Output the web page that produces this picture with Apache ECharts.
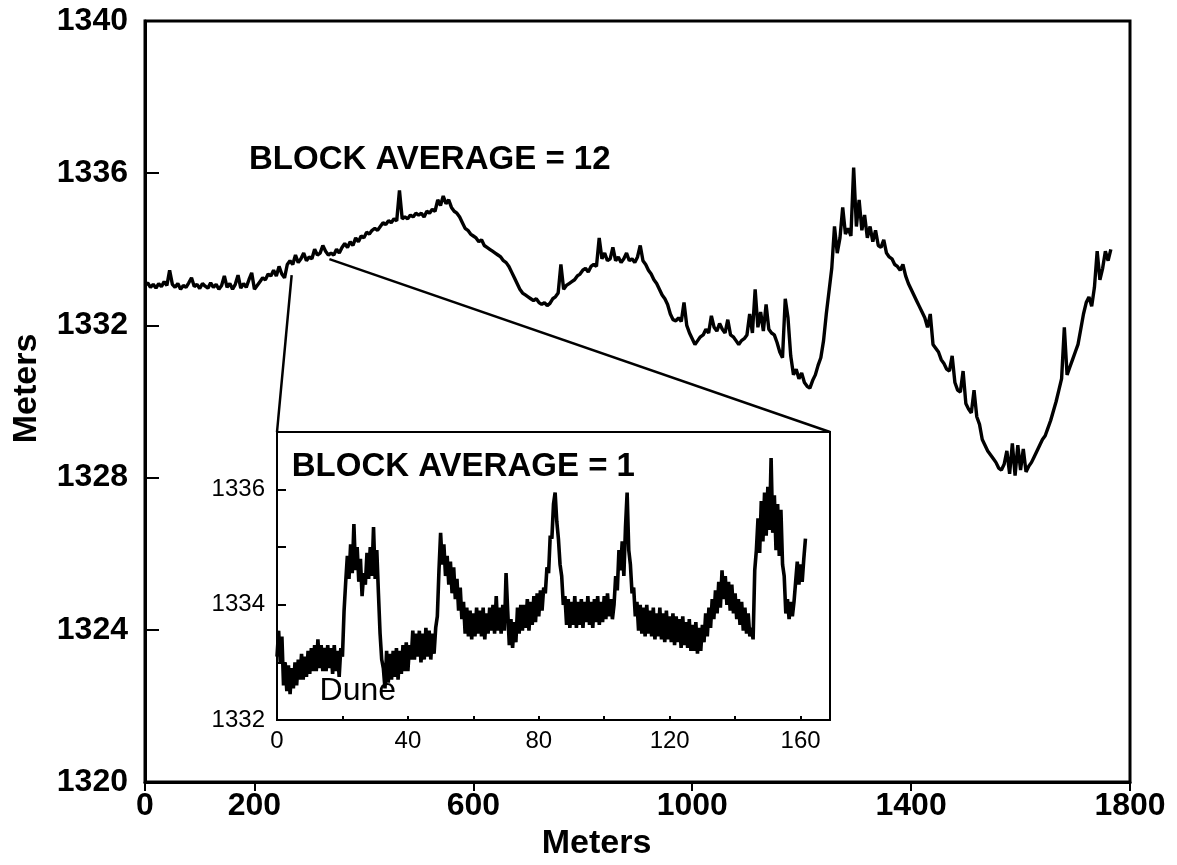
<!DOCTYPE html>
<html><head><meta charset="utf-8">
<script src="https://cdn.jsdelivr.net/npm/echarts@6/dist/echarts.min.js"></script>
<style>html,body{margin:0;padding:0;background:#fff}#c{width:1177px;height:865px}</style>
</head><body><div id="c"></div>
<script>
// ---------- DATA ----------
// Main profile (block average = 12), sampled every mainStep meters from 0 m
const mainStep = 5;
const mainElev = [
1333.05,1333.12,1333.00,1333.08,1332.98,1333.10,1333.02,1333.15,1333.05,1333.45,
1333.08,1333.00,1333.10,1332.95,1333.05,1333.00,1333.12,1333.25,1333.02,1333.08,
1332.97,1333.10,1333.03,1332.98,1333.12,1333.00,1333.08,1332.95,1333.05,1333.30,
1333.00,1333.10,1332.95,1333.08,1333.32,1332.98,1333.10,1333.00,1333.20,1333.38,
1332.95,1333.05,1333.15,1333.25,1333.20,1333.35,1333.30,1333.45,1333.30,1333.55,
1333.35,1333.25,1333.60,1333.70,1333.60,1333.85,1333.65,1333.75,1333.90,1333.70,
1333.80,1333.75,1334.00,1333.85,1333.90,1334.10,1333.95,1333.85,1333.90,1333.85,
1334.00,1333.90,1334.05,1334.15,1334.05,1334.20,1334.10,1334.30,1334.20,1334.35,
1334.30,1334.45,1334.40,1334.50,1334.55,1334.50,1334.60,1334.70,1334.65,1334.75,
1334.70,1334.80,1334.75,1335.55,1334.80,1334.85,1334.80,1334.90,1334.85,1334.95,
1334.90,1334.95,1334.85,1335.00,1334.95,1335.05,1335.00,1335.30,1335.15,1335.40,
1335.20,1335.30,1335.10,1335.00,1334.95,1334.85,1334.70,1334.55,1334.50,1334.40,
1334.35,1334.30,1334.20,1334.25,1334.10,1334.05,1334.00,1333.95,1333.90,1333.85,
1333.80,1333.70,1333.65,1333.55,1333.40,1333.25,1333.10,1332.95,1332.85,1332.80,
1332.75,1332.70,1332.65,1332.70,1332.60,1332.55,1332.60,1332.52,1332.58,1332.70,
1332.75,1332.85,1333.60,1332.95,1333.05,1333.10,1333.15,1333.20,1333.30,1333.35,
1333.45,1333.50,1333.40,1333.55,1333.60,1333.55,1334.30,1333.75,1333.90,1333.70,
1333.75,1334.05,1333.70,1333.80,1333.65,1333.75,1333.90,1333.70,1333.75,1333.65,
1333.80,1334.10,1333.70,1333.60,1333.45,1333.35,1333.20,1333.10,1332.95,1332.80,
1332.70,1332.55,1332.30,1332.15,1332.12,1332.20,1332.10,1332.60,1332.00,1331.80,
1331.65,1331.50,1331.60,1331.70,1331.75,1331.90,1331.80,1332.25,1331.95,1331.85,
1332.05,1331.90,1331.80,1332.15,1331.75,1331.70,1331.60,1331.50,1331.60,1331.65,
1331.75,1332.30,1331.80,1332.95,1331.95,1332.35,1331.85,1332.55,1331.90,1331.80,
1331.75,1331.55,1331.30,1331.15,1332.70,1332.20,1331.20,1330.70,1330.85,1330.60,
1330.75,1330.50,1330.40,1330.35,1330.55,1330.70,1330.95,1331.15,1331.60,1332.30,
1332.90,1333.50,1334.60,1333.90,1334.30,1335.10,1334.40,1334.55,1334.35,1336.15,
1334.60,1335.30,1334.50,1334.90,1334.30,1334.60,1334.20,1334.50,1334.10,1334.05,
1334.25,1333.90,1333.80,1333.75,1333.60,1333.55,1333.45,1333.60,1333.30,1333.10,
1332.95,1332.80,1332.65,1332.50,1332.35,1332.20,1331.95,1332.30,1331.50,1331.40,
1331.30,1331.10,1331.00,1330.85,1330.80,1331.20,1330.50,1330.30,1330.25,1330.80,
1329.95,1329.80,1329.70,1330.30,1329.60,1329.40,1329.00,1328.85,1328.70,1328.60,
1328.50,1328.40,1328.25,1328.20,1328.35,1328.70,1328.10,1328.90,1328.05,1328.85,
1328.20,1328.75,1328.15,1328.30,1328.40,1328.55,1328.70,1328.85,1329.00,1329.10,
1329.30,1329.50,1329.75,1330.00,1330.30,1330.60,1331.95,1330.70,1330.90,1331.10,
1331.30,1331.50,1331.90,1332.30,1332.60,1332.75,1332.50,1333.00,1333.95,1333.20,
1333.50,1333.95,1333.70,1334.00
];
// Inset profile (block average = 1), sampled every insetStep meters from 0 m
const insetStep = 0.5;
const insetElev = [
1333.10,1333.55,1333.00,1333.45,1332.60,1333.00,1332.50,1332.95,1332.45,1332.90,
1332.55,1333.00,1332.60,1333.05,1332.70,1333.15,1332.70,1333.10,1332.75,1333.20,
1332.80,1333.25,1332.85,1333.30,1332.85,1333.40,1332.90,1333.30,1332.85,1333.25,
1332.85,1333.30,1332.90,1333.25,1332.80,1333.30,1332.85,1333.20,1332.75,1333.25,
1333.10,1333.90,1334.40,1334.85,1334.45,1335.05,1334.55,1335.40,1334.60,1335.00,
1334.40,1334.80,1334.15,1334.55,1334.35,1334.90,1334.45,1335.00,1334.50,1335.35,
1334.45,1334.95,1334.20,1333.50,1333.05,1332.90,1332.55,1333.20,1332.65,1333.15,
1332.70,1333.20,1332.75,1333.25,1332.70,1333.20,1332.80,1333.30,1332.85,1333.35,
1332.85,1333.30,1333.05,1333.55,1333.05,1333.50,1333.10,1333.55,1333.00,1333.50,
1333.05,1333.60,1333.10,1333.55,1333.05,1333.50,1333.15,1333.60,1333.80,1334.60,
1335.25,1334.70,1335.05,1334.50,1334.85,1334.35,1334.75,1334.20,1334.65,1334.10,
1334.45,1333.90,1334.30,1333.75,1334.05,1333.50,1333.95,1333.45,1333.90,1333.40,
1333.85,1333.45,1333.95,1333.50,1333.90,1333.45,1333.95,1333.40,1333.85,1333.50,
1333.95,1333.55,1334.00,1333.50,1334.15,1333.55,1333.95,1333.50,1334.00,1333.55,
1334.55,1333.90,1333.30,1333.75,1333.25,1333.70,1333.35,1333.95,1333.50,1334.00,
1333.55,1334.00,1333.60,1334.10,1333.55,1334.05,1333.65,1334.15,1333.70,1334.20,
1333.80,1334.25,1333.90,1334.30,1334.20,1334.65,1334.55,1335.20,1335.15,1335.75,
1335.95,1335.45,1335.15,1334.70,1334.50,1334.00,1334.15,1333.65,1334.10,1333.60,
1334.05,1333.65,1334.15,1333.60,1334.05,1333.65,1334.10,1333.60,1334.05,1333.70,
1334.15,1333.65,1334.05,1333.60,1334.10,1333.70,1334.15,1333.65,1334.05,1333.70,
1334.15,1333.75,1334.20,1333.80,1334.10,1333.75,1334.00,1334.50,1334.25,1334.95,
1334.60,1335.10,1334.50,1335.35,1335.95,1334.95,1334.70,1334.20,1334.30,1333.80,
1334.05,1333.55,1334.00,1333.50,1333.95,1333.45,1334.00,1333.50,1333.90,1333.45,
1333.95,1333.40,1333.85,1333.45,1333.95,1333.40,1333.85,1333.35,1333.90,1333.40,
1333.80,1333.35,1333.85,1333.30,1333.80,1333.35,1333.75,1333.25,1333.80,1333.30,
1333.70,1333.25,1333.75,1333.20,1333.65,1333.20,1333.70,1333.15,1333.60,1333.20,
1333.65,1333.35,1333.85,1333.45,1333.95,1333.60,1334.10,1333.75,1334.25,1333.85,
1334.40,1333.95,1334.60,1334.10,1334.50,1334.00,1334.40,1333.90,1334.35,1333.85,
1334.20,1333.75,1334.10,1333.65,1334.05,1333.55,1333.95,1333.50,1333.85,1333.45,
1333.60,1333.40,1334.60,1334.95,1335.50,1334.90,1335.80,1335.10,1335.95,1335.20,
1336.05,1335.30,1336.55,1335.25,1335.90,1334.95,1335.75,1334.85,1335.65,1334.70,
1334.50,1333.85,1334.10,1333.75,1334.05,1333.80,1334.05,1334.40,1334.75,1334.35,
1334.70,1334.40,1334.80,1335.15
];
const mainXTicks = [0, 200, 600, 1000, 1400, 1800];
const insetXTicks = [0, 40, 80, 120, 160];
const insetYLabels = [1332, 1334, 1336];
const mainTitle = 'BLOCK AVERAGE = 12';
const insetTitle = 'BLOCK AVERAGE = 1';
const insetNote = 'Dune';
const axisName = 'Meters';
// where the zoom connectors leave the main profile (data coords)
const connectFrom = [[268, 1333.32], [337, 1333.74]];

// ---------- CHART ----------
const FONT = '"Liberation Sans", Arial, sans-serif';
const chart = echarts.init(document.getElementById('c'), null, {renderer: 'canvas'});
const mainData = mainElev.map((v, i) => [i * mainStep, v]);
const insetData = insetElev.map((v, i) => [i * insetStep, v]);
const plain = v => String(v);

const option = {
  animation: false,
  backgroundColor: '#fff',
  grid: [
    {left: 145, right: 47, top: 21, bottom: 83, show: true, borderColor: '#000', borderWidth: 3,
     backgroundColor: 'transparent', containLabel: false, outerBoundsMode: 'none'},
    {left: 277, right: 347, top: 432, bottom: 145, show: true, borderColor: '#000', borderWidth: 2,
     backgroundColor: '#fff', z: 5, containLabel: false, outerBoundsMode: 'none'}
  ],
  xAxis: [
    {
      type: 'value', gridIndex: 0, min: 0, max: 1800,
      name: axisName, nameLocation: 'middle', nameGap: 44,
      nameTextStyle: {fontFamily: FONT, fontWeight: 'bold', fontSize: 34, color: '#000', padding: [0, 82, 0, 0]},
      axisLine: {show: true, lineStyle: {color: '#000', width: 3}},
      axisTick: {show: true, inside: false, length: 9, lineStyle: {color: '#000', width: 2}, customValues: mainXTicks},
      axisLabel: {fontFamily: FONT, fontWeight: 'bold', fontSize: 32, color: '#000', margin: 8,
                  customValues: mainXTicks, formatter: plain},
      splitLine: {show: false}
    },
    {
      type: 'value', gridIndex: 1, min: 0, max: 169, interval: 20,
      axisLine: {show: true, lineStyle: {color: '#000', width: 2}},
      axisTick: {show: true, inside: true, length: 4, lineStyle: {color: '#000', width: 2}},
      axisLabel: {fontFamily: FONT, fontSize: 24, color: '#000', margin: 9, customValues: insetXTicks, formatter: plain},
      splitLine: {show: false}, z: 6
    }
  ],
  yAxis: [
    {
      type: 'value', gridIndex: 0, min: 1320, max: 1340, interval: 4,
      name: axisName, nameLocation: 'middle', nameGap: 101,
      nameTextStyle: {fontFamily: FONT, fontWeight: 'bold', fontSize: 34, color: '#000', padding: [0, 0, 0, 26]},
      axisLine: {show: true, lineStyle: {color: '#000', width: 3}},
      axisTick: {show: true, inside: true, length: 14, lineStyle: {color: '#000', width: 2}},
      axisLabel: {fontFamily: FONT, fontWeight: 'bold', fontSize: 32, color: '#000', margin: 17, formatter: plain},
      splitLine: {show: false}
    },
    {
      type: 'value', gridIndex: 1, min: 1332, max: 1337, interval: 1,
      axisLine: {show: true, lineStyle: {color: '#000', width: 2}},
      axisTick: {show: true, inside: true, length: 9, lineStyle: {color: '#000', width: 2}},
      axisLabel: {fontFamily: FONT, fontSize: 24, color: '#000', margin: 12, customValues: insetYLabels, formatter: plain},
      splitLine: {show: false}, z: 6
    }
  ],
  series: [
    {type: 'line', xAxisIndex: 0, yAxisIndex: 0, data: mainData, showSymbol: false, symbol: 'none',
     lineStyle: {color: '#000', width: 3.4}, z: 3},
    {type: 'line', xAxisIndex: 1, yAxisIndex: 1, data: insetData, showSymbol: false, symbol: 'none',
     lineStyle: {color: '#000', width: 3.6}, z: 7}
  ]
};
chart.setOption(option);

const a0 = chart.convertToPixel({xAxisIndex: 0, yAxisIndex: 0}, connectFrom[0]);
const a1 = chart.convertToPixel({xAxisIndex: 0, yAxisIndex: 0}, connectFrom[1]);
const c0 = chart.convertToPixel({xAxisIndex: 1, yAxisIndex: 1}, [0, 1337]);
const c1 = chart.convertToPixel({xAxisIndex: 1, yAxisIndex: 1}, [169, 1337]);
const g0 = chart.convertToPixel({xAxisIndex: 0, yAxisIndex: 0}, [190, 1336.35]);
const g1 = chart.convertToPixel({xAxisIndex: 1, yAxisIndex: 1}, [4.5, 1336.4]);
const g2 = chart.convertToPixel({xAxisIndex: 1, yAxisIndex: 1}, [13, 1332.5]);

chart.setOption({
  graphic: [
    {type: 'line', z: 4, shape: {x1: a0[0], y1: a0[1], x2: c0[0], y2: c0[1]}, style: {stroke: '#000', lineWidth: 2.5}},
    {type: 'line', z: 4, shape: {x1: a1[0], y1: a1[1], x2: c1[0], y2: c1[1]}, style: {stroke: '#000', lineWidth: 2.5}},
    {type: 'text', z: 50, x: g0[0], y: g0[1], style: {text: mainTitle, font: 'bold 33px ' + FONT, fill: '#000', textVerticalAlign: 'middle'}},
    {type: 'text', z: 50, x: g1[0], y: g1[1], style: {text: insetTitle, font: 'bold 33px ' + FONT, fill: '#000', textVerticalAlign: 'middle'}},
    {type: 'text', z: 50, x: g2[0], y: g2[1], style: {text: insetNote, font: '32px ' + FONT, fill: '#000', textVerticalAlign: 'middle'}}
  ]
});
</script></body></html>
